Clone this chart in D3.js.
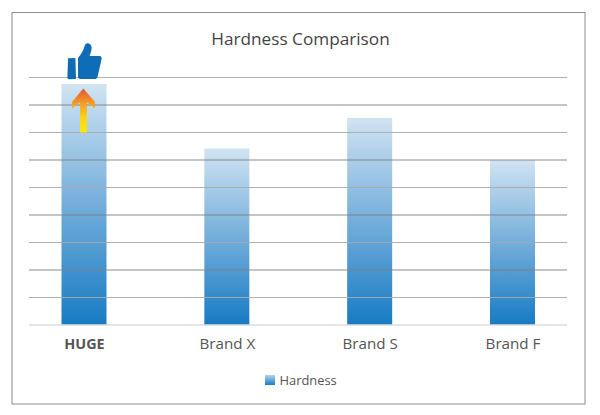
<!DOCTYPE html>
<html>
<head>
<meta charset="utf-8">
<script src="https://cdn.jsdelivr.net/npm/d3@7"></script>
<style>
  html, body { margin: 0; padding: 0; background: #fff; }
  svg { display: block; }
  text { font-family: "Open Sans", sans-serif; }
</style>
</head>
<body>
<svg id="chart"></svg>
<script>
const categories = ["HUGE", "Brand X", "Brand S", "Brand F"];
const hardness = [8.76, 6.42, 7.53, 6.0];
const gridTicks = [1, 2, 3, 4, 5, 6, 7, 8, 9];
const chartTitle = "Hardness Comparison";
const seriesName = "Hardness";

const svg = d3.select("#chart").attr("width", 600).attr("height", 415);
const defs = svg.append("defs");

// bar fill, light at the top of each bar
const barGrad = defs.append("linearGradient")
    .attr("id", "barGrad")
    .attr("x1", 0).attr("y1", 0).attr("x2", 0).attr("y2", 1);
barGrad.append("stop").attr("offset", "0%").attr("stop-color", "#d0e3f2");
barGrad.append("stop").attr("offset", "50%").attr("stop-color", "#74aedb");
barGrad.append("stop").attr("offset", "100%").attr("stop-color", "#177bc3");

const legendGrad = defs.append("linearGradient")
    .attr("id", "legendGrad")
    .attr("x1", 0).attr("y1", 0).attr("x2", 0).attr("y2", 1);
legendGrad.append("stop").attr("offset", "0%").attr("stop-color", "#b5d4ea");
legendGrad.append("stop").attr("offset", "100%").attr("stop-color", "#177bc3");

const arrowGrad = defs.append("linearGradient")
    .attr("id", "arrowGrad")
    .attr("x1", 0).attr("y1", 0).attr("x2", 0).attr("y2", 1);
arrowGrad.append("stop").attr("offset", "0%").attr("stop-color", "#e8552c");
arrowGrad.append("stop").attr("offset", "35%").attr("stop-color", "#f5a02a");
arrowGrad.append("stop").attr("offset", "65%").attr("stop-color", "#fcd116");
arrowGrad.append("stop").attr("offset", "100%").attr("stop-color", "#ffe90f");

// outer frame
svg.append("rect")
    .attr("x", 12).attr("y", 12.5)
    .attr("width", 573).attr("height", 391.5)
    .attr("fill", "#fff")
    .attr("stroke", "#8c8c8c")
    .attr("stroke-width", 1);

const x = d3.scalePoint().domain(categories).range([84, 512.5]);
const y = d3.scaleLinear().domain([0, 9]).range([325, 77.5]);
const barWidth = 45;

svg.append("text")
    .attr("x", 300.5).attr("y", 44.5)
    .attr("text-anchor", "middle")
    .attr("font-size", 17.2)
    .attr("fill", "#444")
    .text(chartTitle);

svg.selectAll(".bar")
    .data(hardness)
    .enter()
    .append("rect")
    .attr("class", "bar")
    .attr("x", (d, i) => x(categories[i]) - barWidth / 2)
    .attr("y", d => y(d))
    .attr("width", barWidth)
    .attr("height", d => y(0) - y(d))
    .attr("fill", "url(#barGrad)");

svg.selectAll(".grid")
    .data(gridTicks)
    .enter()
    .append("line")
    .attr("class", "grid")
    .attr("x1", 29).attr("x2", 567)
    .attr("y1", d => y(d)).attr("y2", d => y(d))
    .attr("stroke", d => d % 2 ? "#a9a9a9" : "#7f7f7f")
    .attr("stroke-opacity", 0.9)
    .attr("stroke-width", 1);

// baseline and category labels
const xAxis = svg.append("g")
    .attr("transform", `translate(0,${y(0)})`)
    .call(d3.axisBottom(x).tickSize(0).tickPadding(13.5));
xAxis.select(".domain")
    .attr("d", "M29,0H567")
    .attr("stroke", "#dcdcdc")
    .attr("stroke-width", 1.5);
xAxis.selectAll("text")
    .style("font-family", '"Open Sans", sans-serif')
    .style("font-size", d => d === "HUGE" ? "14.4px" : "15.2px")
    .style("fill", "#555")
    .style("font-weight", d => d === "HUGE" ? 700 : 400);

// thumbs up icon
const thumb = svg.append("g").attr("fill", "#0f6cb6");
thumb.append("path")
    .attr("d", "M68,58.3 L75.4,58 L76,79 L69,79.2 Q67.4,79 67.4,78 Z");
thumb.append("path")
    .attr("d", "M78,58 C81.5,54 83.5,50 84.6,46 C85.2,43.5 87,42.8 88.8,43.4 C91.6,44.4 92,47.5 91.4,50 C91,52 90.3,54 89.5,56 L99.5,56 C101.5,56 102,58 101.4,60 L97.5,77 C97.2,78.5 96,79 94.5,79 L82,79 C80,79 78.5,78.5 78,77.5 Z");

// arrow over the first bar
svg.append("path")
    .attr("fill", "url(#arrowGrad)")
    .attr("d", "M83.3,88.5 L95,102 L95,108.5 L87,102.5 L87,132.5 L80,132.5 L80,102.5 L72,108.5 L72,102 Z");

// legend
svg.append("rect")
    .attr("x", 265).attr("y", 375)
    .attr("width", 10).attr("height", 10)
    .attr("fill", "url(#legendGrad)");
svg.append("text")
    .attr("x", 279.5).attr("y", 385)
    .attr("font-size", 12.9)
    .attr("fill", "#555")
    .text(seriesName);
</script>
</body>
</html>
